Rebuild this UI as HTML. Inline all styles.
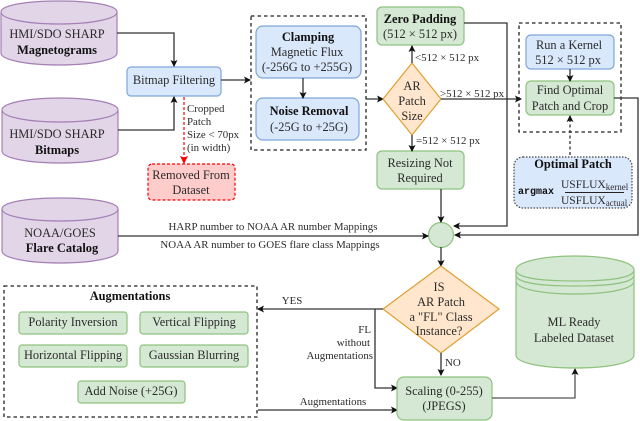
<!DOCTYPE html>
<html><head><meta charset="utf-8"><style>
html,body{margin:0;padding:0;background:#fff;width:640px;height:421px;overflow:hidden}
svg{display:block}
text{font-family:"Liberation Serif",serif;font-size:12.4px;fill:#2b2b2b;text-anchor:middle}
.l{text-anchor:start}
.r{text-anchor:end}
.b{font-weight:bold;fill:#111}
.s{font-size:10.900px}
.blue{fill:#dae8fc;stroke:#7ea6d8;stroke-width:1.2}
.green{fill:#d5e8d4;stroke:#8fc27f;stroke-width:1.2}
.cyl{fill:#e1d5e7;stroke:#a57fb5;stroke-width:1.2}
.org{fill:#ffe6cc;stroke:#e0a030;stroke-width:1.2}
.ln{fill:none;stroke:#333;stroke-width:1.3}
.dash{fill:none;stroke:#222;stroke-width:1.3;stroke-dasharray:3.5 3}
</style></head><body>
<svg width="640" height="421" viewBox="0 0 640 421" xmlns="http://www.w3.org/2000/svg">
<defs>
<marker id="a" markerWidth="7" markerHeight="7" refX="6" refY="3.5" orient="auto" markerUnits="userSpaceOnUse"><path d="M0,0L7,3.5L0,7L1.5,3.5Z" fill="#111"/></marker>
<marker id="ar" markerWidth="8" markerHeight="8" refX="7" refY="4" orient="auto" markerUnits="userSpaceOnUse"><path d="M0,0L8,4L0,8L1.5,4Z" fill="#f00"/></marker>
</defs>

<!-- cylinders -->
<path class="cyl" d="M1,12V53C1,60 27,65 59,65S117,60 117,53V12C117,5 91,1 59,1S1,5 1,12C1,19 27,24 59,24S117,19 117,12"/>
<text x="57" y="38">HMI/SDO SHARP</text><text x="57" y="54" class="b">Magnetograms</text>
<path class="cyl" d="M2,110V151C2,158 28,163 60,163S118,158 118,151V110C118,103 92,98 60,98S2,103 2,110C2,117 28,122 60,122S118,117 118,110"/>
<text x="57" y="138">HMI/SDO SHARP</text><text x="57" y="154" class="b">Bitmaps</text>
<path class="cyl" d="M2,209V251C2,258 28,263 60,263S118,258 118,251V209C118,202 92,198 60,198S2,202 2,209C2,216 28,221 60,221S118,216 118,209"/>
<text x="60" y="237">NOAA/GOES</text><text x="62" y="252" class="b">Flare Catalog</text>

<!-- Bitmap filtering -->
<rect class="blue" x="127" y="67" width="94" height="29" rx="4"/>
<text x="174" y="84">Bitmap Filtering</text>
<path class="ln" d="M117,33H174V66" marker-end="url(#a)"/>
<path class="ln" d="M118,130H174V97" marker-end="url(#a)"/>
<path d="M184,97V163" fill="none" stroke="#f00" stroke-width="1.2" stroke-dasharray="3 2" marker-end="url(#ar)"/>
<text class="l s" x="187" y="112">Cropped</text>
<text class="l s" x="187" y="125">Patch</text>
<text class="l s" x="187" y="138">Size &lt; 70px</text>
<text class="l s" x="187" y="151">(in width)</text>
<rect x="148" y="164" width="87" height="36" rx="4" fill="#fdcccb" stroke="#f00" stroke-width="1.2" stroke-dasharray="3 2"/>
<text x="191" y="179">Removed From</text><text x="191" y="194">Dataset</text>
<path class="ln" d="M221,80H250" marker-end="url(#a)"/>

<!-- Clamp box -->
<rect class="dash" x="251" y="16" width="115" height="134"/>
<rect class="blue" x="256" y="26" width="105" height="52" rx="7"/>
<text x="308" y="41" class="b">Clamping</text><text x="307" y="56">Magnetic Flux</text><text x="307" y="71">(-256G to +255G)</text>
<rect class="blue" x="256" y="98" width="103" height="42" rx="7"/>
<text x="309" y="115" class="b">Noise Removal</text><text x="309" y="131">(-25G to +25G)</text>
<path class="ln" d="M303,78V98" marker-end="url(#a)"/>
<path class="ln" d="M366,99H383" marker-end="url(#a)"/>

<!-- AR patch diamond -->
<path class="org" d="M412,63L441,99L412,135L383,99Z"/>
<text x="412" y="90">AR</text><text x="412" y="105">Patch</text><text x="412" y="120">Size</text>
<rect class="green" x="377" y="7" width="87" height="38" rx="5"/>
<text x="420" y="23" class="b">Zero Padding</text><text x="420" y="38">(512 × 512 px)</text>
<rect class="green" x="377" y="151" width="87" height="38" rx="5"/>
<text x="420" y="167">Resizing Not</text><text x="420" y="182">Required</text>
<path class="ln" d="M412,63V46" marker-end="url(#a)"/>
<path class="ln" d="M412,135V151" marker-end="url(#a)"/>
<text class="l s" x="415" y="61">&lt;512 × 512 px</text>
<text class="l s" x="440" y="97">&gt;512 × 512 px</text>
<text class="l s" x="416" y="144">=512 × 512 px</text>
<path class="ln" d="M441,99H521" marker-end="url(#a)"/>

<!-- kernel box -->
<rect class="dash" x="519" y="23" width="102" height="109"/>
<rect class="blue" x="526" y="35" width="88" height="34" rx="5"/>
<text x="569" y="49">Run a Kernel</text><text x="568" y="64">512 × 512 px</text>
<rect class="green" x="526" y="81" width="88" height="34" rx="5"/>
<text x="570" y="94">Find Optimal</text><text x="570" y="110">Patch and Crop</text>
<path class="ln" d="M570,69V81" marker-end="url(#a)"/>
<path d="M570,155V116" fill="none" stroke="#333" stroke-width="1.3" stroke-dasharray="3 2.5" marker-end="url(#a)"/>
<rect x="514" y="157" width="118" height="51" rx="9" fill="#dae8fc" stroke="#444" stroke-width="1.2" stroke-dasharray="1.5 1.5"/>
<text x="573" y="168" class="b">Optimal Patch</text>
<text x="518" y="194" class="l b" style="font-family:'Liberation Mono',monospace;font-size:10px">argmax</text>
<text x="561" y="188" class="l" style="font-size:11.500px">USFLUX<tspan font-size="9" dy="2">kernel</tspan></text>
<path d="M565,192.500H624" stroke="#222" stroke-width="1"/>
<text x="561" y="204" class="l" style="font-size:11.500px">USFLUX<tspan font-size="9" dy="2">actual</tspan></text>
<path class="ln" d="M464,23H507V226H454" marker-end="url(#a)"/>
<path class="ln" d="M614,98H638V235H455" marker-end="url(#a)"/>

<!-- center circle -->
<circle cx="441" cy="235" r="12.500" class="green"/>
<path class="ln" d="M441,189V222" marker-end="url(#a)"/>
<path class="ln" d="M118,236H428" marker-end="url(#a)"/>
<text x="273" y="230" class="s">HARP number to NOAA AR number Mappings</text>
<text x="270" y="248" class="s">NOAA AR number  to GOES flare class Mappings</text>
<path class="ln" d="M441,247V266" marker-end="url(#a)"/>

<!-- second diamond -->
<path class="org" d="M441,266L499,309L441,353L383,309Z"/>
<text x="439" y="291">IS</text><text x="441" y="306">AR Patch</text><text x="441" y="321">a  "FL" Class</text><text x="439" y="335">Instance?</text>
<path class="ln" d="M441,353V375" marker-end="url(#a)"/>
<text class="l s" x="445" y="366">NO</text>
<path class="ln" d="M383,309H258" marker-end="url(#a)"/>
<text x="292" y="304" class="s">YES</text>
<path class="ln" d="M375,309V388H397" marker-end="url(#a)"/>
<text class="r s" x="371" y="333">FL</text><text class="r s" x="370" y="346">without</text><text class="r s" x="373" y="359">Augmentations</text>
<path class="ln" d="M258,410H397" marker-end="url(#a)"/>
<text x="333" y="405" class="s">Augmentations</text>
<rect class="green" x="397" y="377" width="95" height="43" rx="7"/>
<text x="444" y="395">Scaling (0-255)</text><text x="444" y="410">(JPEGS)</text>
<path d="M492,398H575V369" fill="none" stroke="#555" stroke-width="1.300" marker-end="url(#a)"/>

<!-- ML cylinder -->
<path class="green" d="M516,270V355C516,363 542,368 575,368S634,363 634,355V270C634,262 608,256 575,256S516,262 516,270C516,278 542,281 575,281S634,278 634,270"/>
<path d="M516,275C516,283 542,286 575,286S634,283 634,275M516,281C516,289 542,294 575,294S634,289 634,281" fill="none" stroke="#8fc27f" stroke-width="1.200"/>
<text x="574" y="326">ML Ready</text><text x="574" y="342">Labeled Dataset</text>

<!-- Augmentations -->
<rect class="dash" x="4" y="286" width="253" height="131"/>
<text x="130" y="300" class="b">Augmentations</text>
<rect class="green" x="19" y="312" width="108" height="22" rx="3"/><text x="73" y="326">Polarity Inversion</text>
<rect class="green" x="140" y="312" width="108" height="22" rx="3"/><text x="194" y="326">Vertical Flipping</text>
<rect class="green" x="19" y="345" width="108" height="22" rx="3"/><text x="73" y="359">Horizontal Flipping</text>
<rect class="green" x="140" y="345" width="108" height="22" rx="3"/><text x="194" y="359">Gaussian Blurring</text>
<rect class="green" x="78" y="381" width="107" height="22" rx="3"/><text x="131" y="395">Add Noise (+25G)</text>
</svg>
</body></html>
